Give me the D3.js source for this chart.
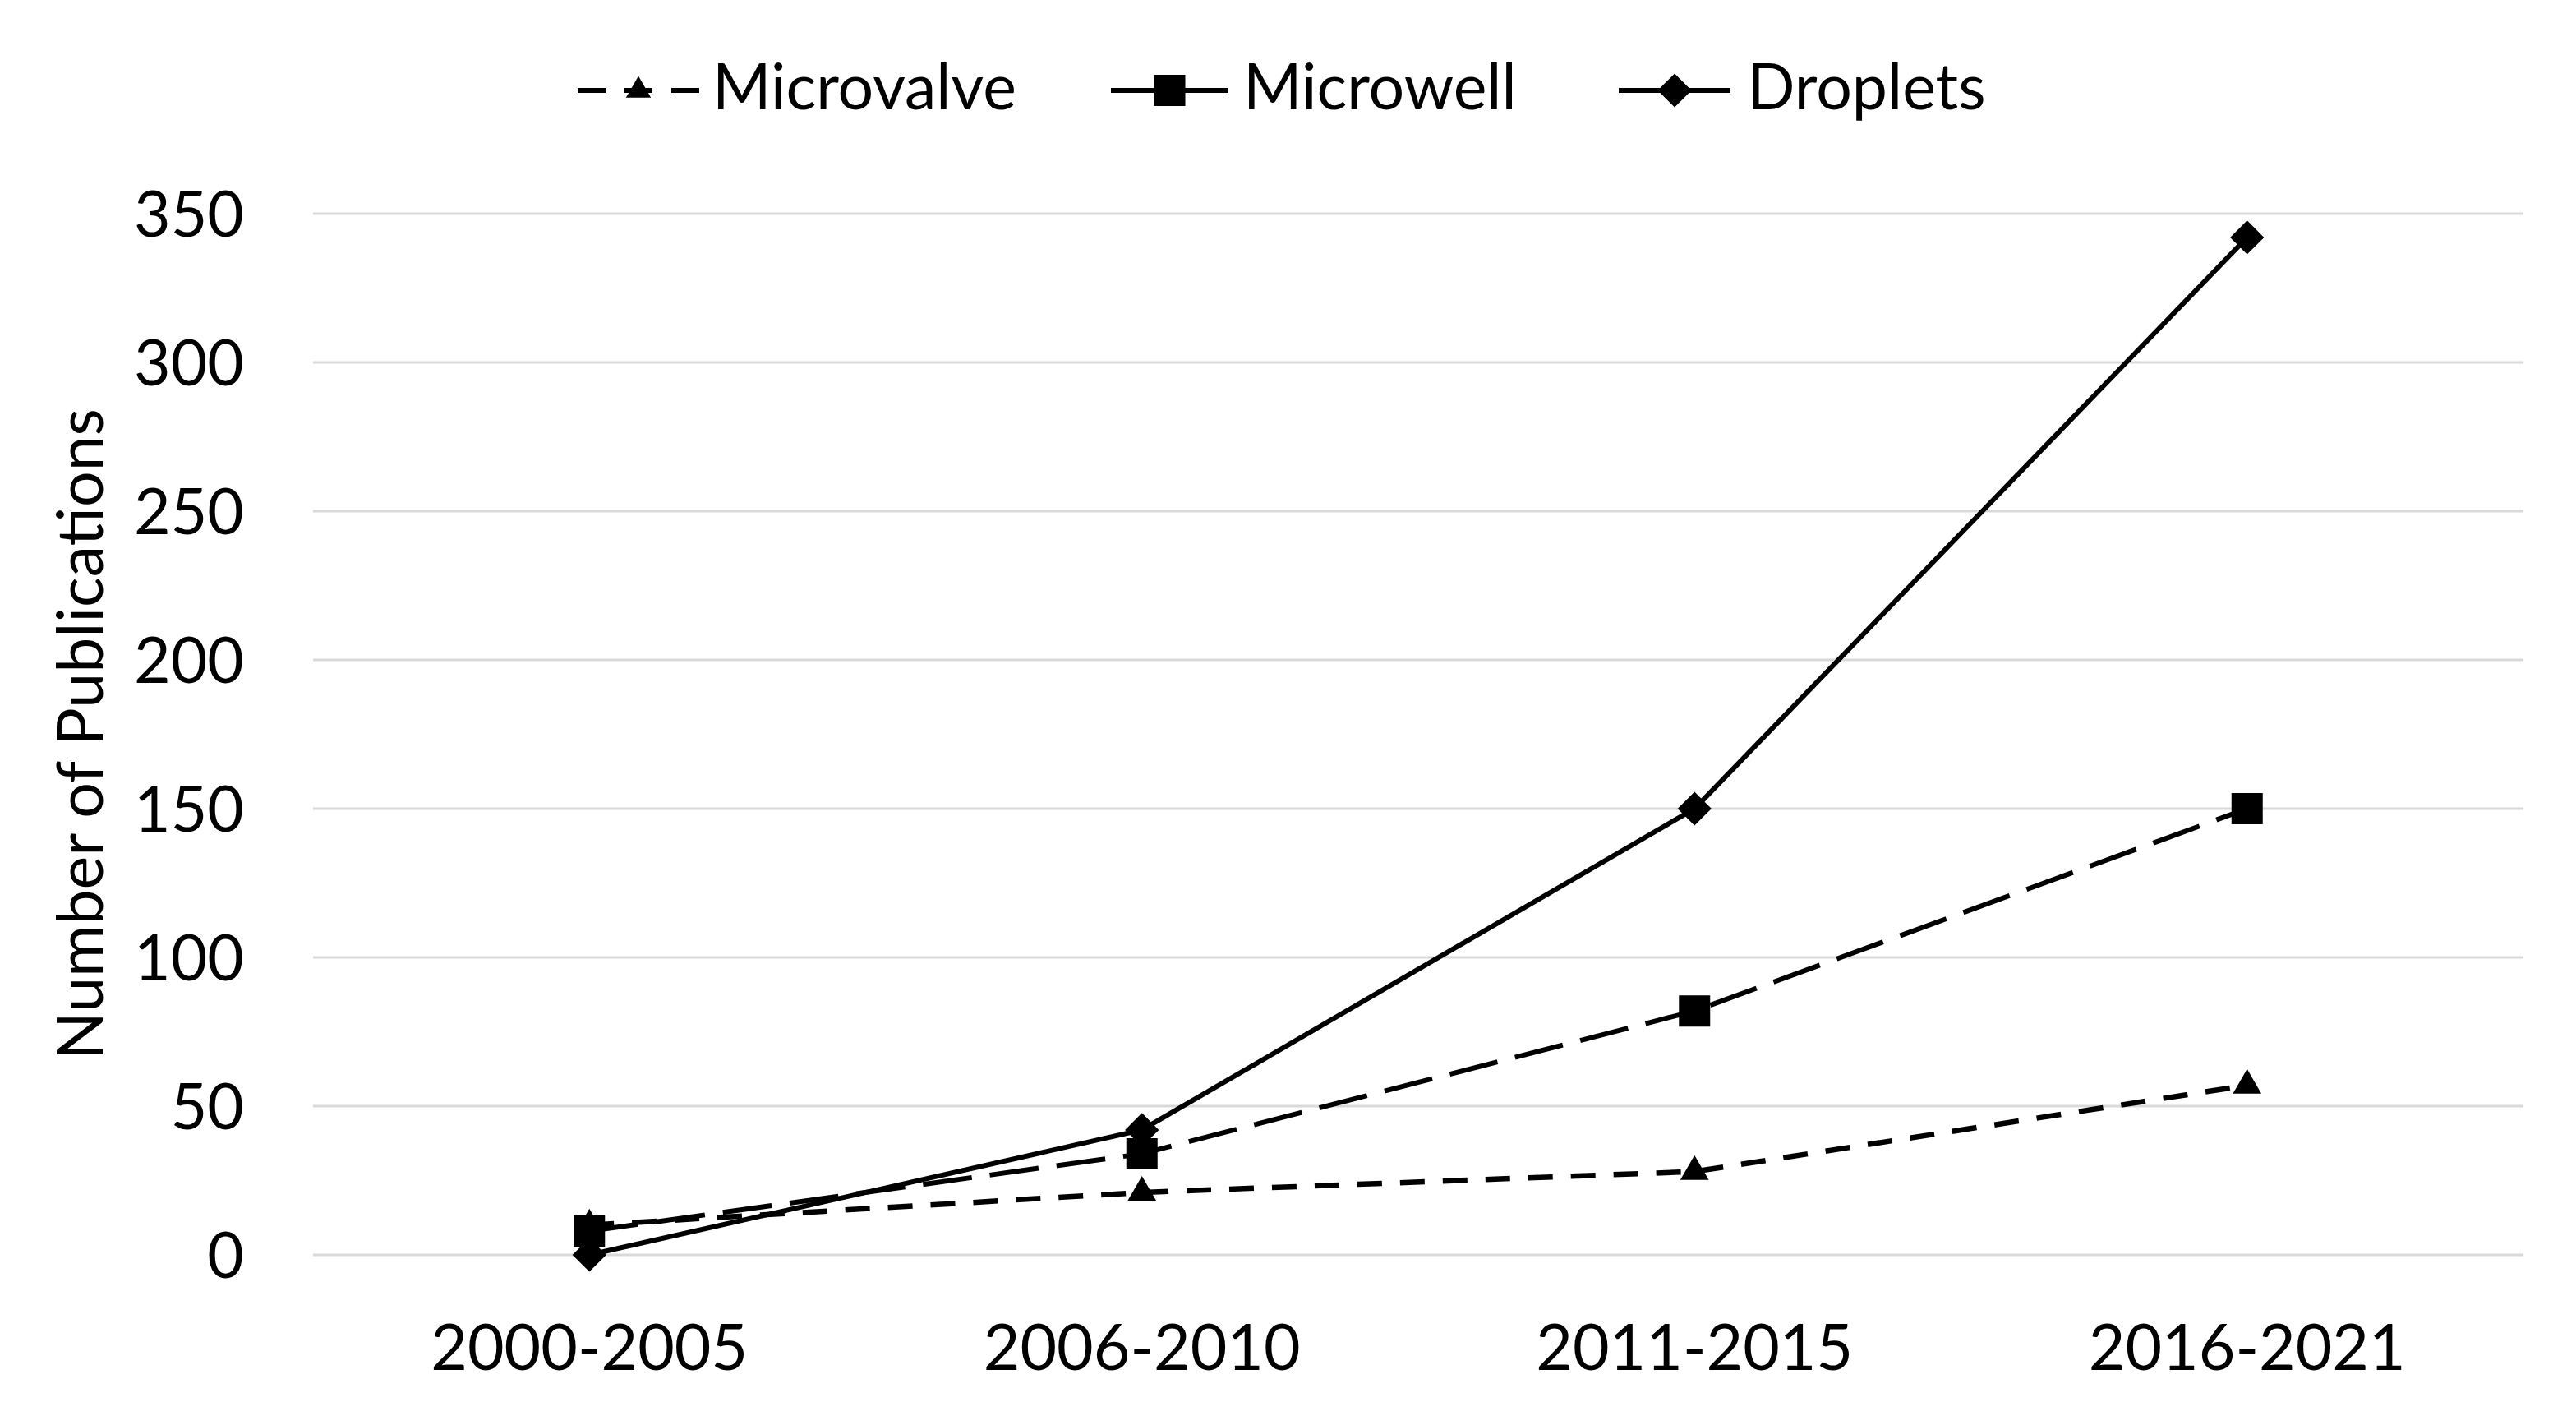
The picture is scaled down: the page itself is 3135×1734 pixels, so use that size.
<!DOCTYPE html>
<html>
<head>
<meta charset="utf-8">
<script src="https://cdn.jsdelivr.net/npm/d3@7"></script>
<style>
  body { margin: 0; background: #fff; }
  text { font-family: Lato, "Open Sans", sans-serif; fill: #000; }
</style>
</head>
<body>
<div id="chartDiv"></div>
<script>
// Publications per period
var categories = ["2000-2005", "2006-2010", "2011-2015", "2016-2021"];
var microvalve = [10, 21, 28, 57];
var microwell = [8, 34, 82, 150];
var droplets = [0, 42, 150, 342];
var yTicks = [0, 50, 100, 150, 200, 250, 300, 350];

var width = 3135;
var height = 1734;
var fontSize = 77;

var svg = d3.select("#chartDiv")
    .append("svg")
    .attr("width", width)
    .attr("height", height);

var x = d3.scalePoint()
    .domain(categories)
    .range([381, 3071])
    .padding(0.5);

var y = d3.scaleLinear()
    .domain([0, 350])
    .range([1527, 260]);

// gridlines
svg.append("g")
    .selectAll("line")
    .data(yTicks)
    .enter()
    .append("line")
    .attr("x1", 381)
    .attr("x2", 3071)
    .attr("y1", function(d) { return y(d); })
    .attr("y2", function(d) { return y(d); })
    .attr("stroke", "#d9d9d9")
    .attr("stroke-width", 3);

// y tick labels
svg.append("g")
    .selectAll("text")
    .data(yTicks)
    .enter()
    .append("text")
    .attr("x", 297)
    .attr("y", function(d) { return y(d); })
    .attr("dy", "0.36em")
    .attr("text-anchor", "end")
    .style("font-size", fontSize + "px")
    .text(function(d) { return d; });

// x tick labels
svg.append("g")
    .selectAll("text")
    .data(categories)
    .enter()
    .append("text")
    .attr("x", function(d) { return x(d); })
    .attr("y", 1667)
    .attr("text-anchor", "middle")
    .style("font-size", fontSize + "px")
    .text(function(d) { return d; });

// y axis title
svg.append("text")
    .attr("transform", "translate(125," + ((y(0) + y(350)) / 2) + ") rotate(-90)")
    .attr("text-anchor", "middle")
    .style("font-size", fontSize + "px")
    .text("Number of Publications");

var series = [
  {name: "Microvalve", values: microvalve, dash: "30,22", width: 6.5,
   symbol: d3.symbolTriangle, size: 520, rotate: 0},
  {name: "Microwell", values: microwell, dash: "60,22", width: 6,
   symbol: d3.symbolSquare, size: 1444, rotate: 0},
  {name: "Droplets", values: droplets, dash: null, width: 6,
   symbol: d3.symbolSquare, size: 850, rotate: 45}
];

var line = d3.line()
    .x(function(d, i) { return x(categories[i]); })
    .y(function(d) { return y(d); });

svg.append("g")
    .selectAll("path")
    .data(series)
    .enter()
    .append("path")
    .attr("d", function(s) { return line(s.values); })
    .attr("fill", "none")
    .attr("stroke", "#000")
    .attr("stroke-width", function(s) { return s.width; })
    .attr("stroke-dasharray", function(s) { return s.dash; });

// markers on top of the lines
series.forEach(function(s) {
  svg.append("g")
      .selectAll("path")
      .data(s.values)
      .enter()
      .append("path")
      .attr("d", d3.symbol().type(s.symbol).size(s.size))
      .attr("transform", function(d, i) {
        return "translate(" + x(categories[i]) + "," + y(d) + ") rotate(" + s.rotate + ")";
      })
      .attr("fill", "#000");
});

// legend
var legendItems = [
  {s: series[0], x1: 703, x2: 851, tx: 867, dash: "34,23"},
  {s: series[1], x1: 1352, x2: 1495, tx: 1513, dash: null},
  {s: series[2], x1: 1970, x2: 2106, tx: 2126, dash: null}
];
var legendY = 110;

var legend = svg.append("g")
    .selectAll("g")
    .data(legendItems)
    .enter()
    .append("g");

legend.append("line")
    .attr("x1", function(d) { return d.x1; })
    .attr("x2", function(d) { return d.x2; })
    .attr("y1", legendY)
    .attr("y2", legendY)
    .attr("stroke", "#000")
    .attr("stroke-width", 6)
    .attr("stroke-dasharray", function(d) { return d.dash; });

legend.append("path")
    .attr("d", function(d) {
      var size = d.s.name === "Microvalve" ? 400 : d.s.size;
      return d3.symbol().type(d.s.symbol).size(size)();
    })
    .attr("transform", function(d) {
      return "translate(" + ((d.x1 + d.x2) / 2) + "," + legendY + ") rotate(" + d.s.rotate + ")";
    })
    .attr("fill", "#000");

legend.append("text")
    .attr("x", function(d) { return d.tx; })
    .attr("y", 133)
    .style("font-size", fontSize + "px")
    .text(function(d) { return d.s.name; });
</script>
</body>
</html>
